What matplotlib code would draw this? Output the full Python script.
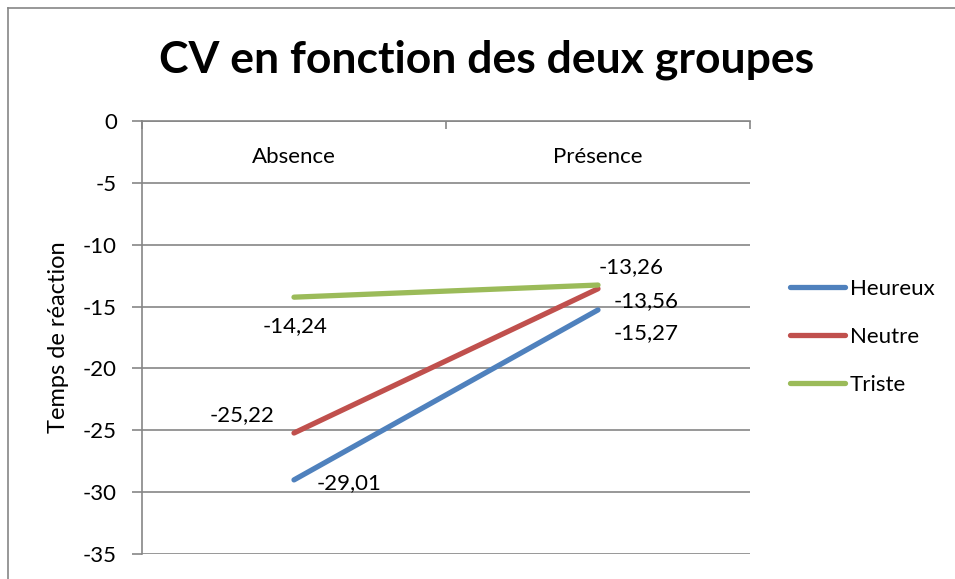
import matplotlib.pyplot as plt
from matplotlib.lines import Line2D

# data
groupes = ['Absence', 'Présence']
heureux = [-29.01, -15.27]
neutre = [-25.22, -13.56]
triste = [-14.24, -13.26]
series_names = ['Heureux', 'Neutre', 'Triste']
colors = ['#4F81BD', '#C0504D', '#9BBB59']
# label offsets in pixels (dx, dy) from each point to the label's left edge
offsets = [[(23, -3), (16, -23)], [(-84, 18), (16, -12)], [(-31, -29), (1, 18)]]

plt.rcParams['font.family'] = ['Lato', 'DejaVu Sans']
plt.rcParams['axes.unicode_minus'] = False
grey = '#868686'

fig = plt.figure(figsize=(9.55, 5.79), dpi=100)
ax = fig.add_axes([142 / 955, 1 - 554 / 579, 608 / 955, 433 / 579])

x = list(range(len(groupes)))
for name, vals, col, offs in zip(series_names, [heureux, neutre, triste], colors, offsets):
    ax.plot(x, vals, color=col, lw=3.8, solid_capstyle='round', label=name)
    for xi, v, (dx, dy) in zip(x, vals, offs):
        ax.annotate(f'{v:.2f}'.replace('.', ','), (xi, v), xytext=(dx * 0.72, dy * 0.72),
                    textcoords='offset points', ha='left', va='center', fontsize=16)

ax.set_xlim(-0.5, len(groupes) - 0.5)
ax.set_ylim(-35, 0)
ax.set_yticks(range(-35, 1, 5))
ax.tick_params(axis='y', labelsize=16, length=7, color=grey, width=1.2, pad=11)
ax.yaxis.grid(True, color=grey, lw=1.2)
ax.set_axisbelow(True)

ax.xaxis.tick_top()
ax.set_xticks([-0.5, 0.5, 1.5])
ax.set_xticklabels([])
ax.set_xticks(x, minor=True)
ax.set_xticklabels(groupes, minor=True)
ax.tick_params(axis='x', which='major', direction='in', length=6, color=grey, width=1.2)
ax.tick_params(axis='x', which='minor', length=0, labelsize=16, pad=-33)

for s in ['right', 'bottom']:
    ax.spines[s].set_visible(False)
for s in ['left', 'top']:
    ax.spines[s].set_color(grey)
    ax.spines[s].set_linewidth(1.2)

ax.set_ylabel('Temps de réaction', fontsize=17, labelpad=10)

fig.text(487 / 955, 1 - 60 / 579, 'CV en fonction des deux groupes', ha='center', va='center',
         fontsize=32, fontweight='bold')

fig.legend(loc='center left', bbox_to_anchor=(781 / 955, 1 - 337 / 579), frameon=False,
           fontsize=16, handlelength=2.5, handletextpad=0.2, labelspacing=1.25, borderaxespad=0)

# chart border (only left and top visible)
fig.add_artist(Line2D([7.5 / 955, 7.5 / 955], [0, 1 - 8 / 579], color=grey, lw=1.2))
fig.add_artist(Line2D([7.5 / 955, 1], [1 - 8 / 579, 1 - 8 / 579], color=grey, lw=1.2))

fig.savefig('out.png', dpi=100)
